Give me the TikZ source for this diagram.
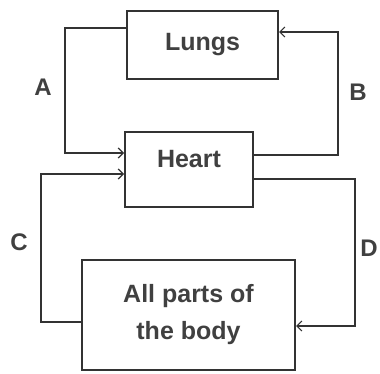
\documentclass[tikz,border=0pt]{standalone}
\usepackage{fontspec}
\setmainfont{Liberation Sans}
\usepackage{tikz}
\usetikzlibrary {calc,arrows.meta}
\usepackage[dvipsnames]{xcolor}

\begin{document}
\begin{tikzpicture}[
    x=1pt, y=-1pt,
    organ/.style={
        rectangle,
        draw=black!80,
        line width=2pt,
        text=black!75,     % Greyish print colour
        font=\fontsize{25}{37}\selectfont\bfseries,
        align=center,
        inner sep=0pt
    },
    flow/.style={
        draw=black!80,
        line width=2pt,
        -{Straight Barb[length=5pt,width=10pt,line width=1.2pt]}
    },
    tag/.style={
        text=black!75,
        font=\fontsize{24}{24}\selectfont\bfseries
    }
]
\useasboundingbox (0,0) rectangle (380,374);

\node[organ, minimum width=151pt, minimum height=68pt] (lungs) at (202.5,45) {Lungs};
\node[organ, minimum width=128pt, minimum height=75pt, text depth=21pt] (heart) at (189,169.5) {Heart};
\node[organ, minimum width=213pt, minimum height=110pt] (body) at (188.5,315) {All parts of\\the body};

% lungs -> heart (A)
\draw[flow] ([yshift=17pt]lungs.west) -| (65,153) -- ([yshift=16.5pt]heart.west);
% heart -> lungs (B)
\draw[flow] ([yshift=14.5pt]heart.east) -| (338,32) -- ([yshift=13pt]lungs.east);
% body -> heart (C)
\draw[flow] ([yshift=-7pt]body.west) -| (41,174) -- ([yshift=-4.5pt]heart.west);
% heart -> body (D)
\draw[flow] ([yshift=-9.5pt]heart.east) -| (355,326) -- ([yshift=-11pt]body.east);

\node[tag] (la) at (43,87) {A};
\node[tag] (lb) at (358,92) {B};
\node[tag] (lc) at (19,242) {C};
\node[tag] (ld) at (369,248) {D};
\end{tikzpicture}
\end{document}
